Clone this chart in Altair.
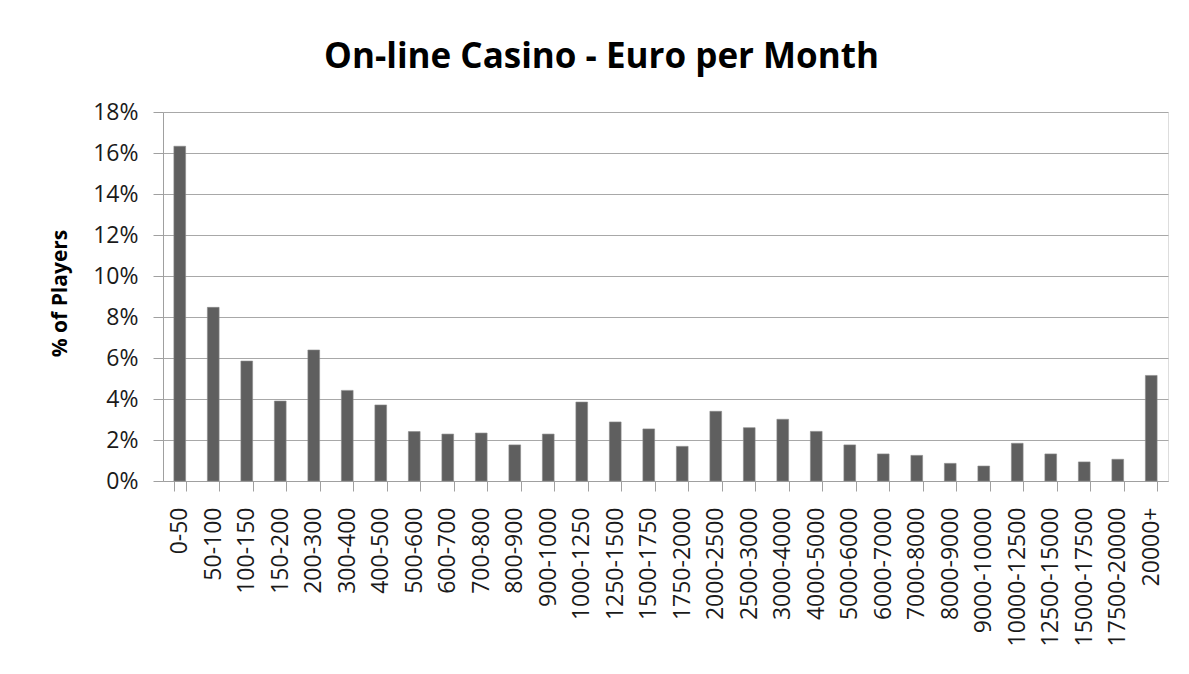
import altair as alt
import pandas as pd

categories = ["0-50", "50-100", "100-150", "150-200", "200-300", "300-400", "400-500",
              "500-600", "600-700", "700-800", "800-900", "900-1000", "1000-1250",
              "1250-1500", "1500-1750", "1750-2000", "2000-2500", "2500-3000",
              "3000-4000", "4000-5000", "5000-6000", "6000-7000", "7000-8000",
              "8000-9000", "9000-10000", "10000-12500", "12500-15000", "15000-17500",
              "17500-20000", "20000+"]
percent_players = [16.33, 8.47, 5.85, 3.90, 6.39, 4.42, 3.71, 2.41, 2.29, 2.34,
                   1.76, 2.29, 3.85, 2.88, 2.54, 1.69, 3.40, 2.60, 3.01, 2.42,
                   1.76, 1.32, 1.25, 0.86, 0.73, 1.84, 1.32, 0.93, 1.06, 5.15]
y_ticks = [0, 2, 4, 6, 8, 10, 12, 14, 16, 18]

df = pd.DataFrame({"range": categories, "pct": percent_players})

FONT = "Open Sans"

chart = alt.Chart(df).mark_bar(color="#5f5f5f", stroke="#8a8a8a", strokeWidth=0.6).encode(
    x=alt.X("range:N", sort=categories,
            scale=alt.Scale(paddingInner=0.65, paddingOuter=0.325),
            axis=alt.Axis(title=None, labelAngle=270, labelAlign="right",
                          labelBaseline="middle", labelFontSize=23, labelFont=FONT,
                          labelColor="#1a1a1a", tickSize=10, labelPadding=16,
                          tickBand="extent", tickColor="#a0a0a0", domainColor="#a0a0a0",
                          labelOverlap=False, grid=False)),
    y=alt.Y("pct:Q", scale=alt.Scale(domain=[0, 18], nice=False),
            axis=alt.Axis(title="% of Players", values=y_ticks,
                          labelExpr="datum.value + '%'", labelFontSize=23,
                          labelFont=FONT, labelColor="#1a1a1a", tickSize=10,
                          labelPadding=15, tickColor="#a0a0a0", domainColor="#a0a0a0",
                          gridColor="#a8a8a8", gridWidth=1.2,
                          titleFont=FONT, titleFontSize=21, titleFontWeight="bold",
                          titleColor="#000000", titleX=-103, titleY=181,
                          titleAngle=270, titleAlign="center", titleBaseline="middle")),
).properties(
    width=1005,
    height=369,
    title=alt.TitleParams("On-line Casino - Euro per Month", font=FONT, fontSize=35,
                          fontWeight="bold", color="#000000", anchor="middle",
                          dx=-64, dy=4, offset=2, baseline="alphabetic"),
    autosize=alt.AutoSizeParams(type="none"),
    padding={"left": 155, "top": 104, "right": 10, "bottom": 180},
).configure_view(stroke=None).configure(background="white")

chart.save("out.html", embed_options={"renderer": "svg", "actions": False})
